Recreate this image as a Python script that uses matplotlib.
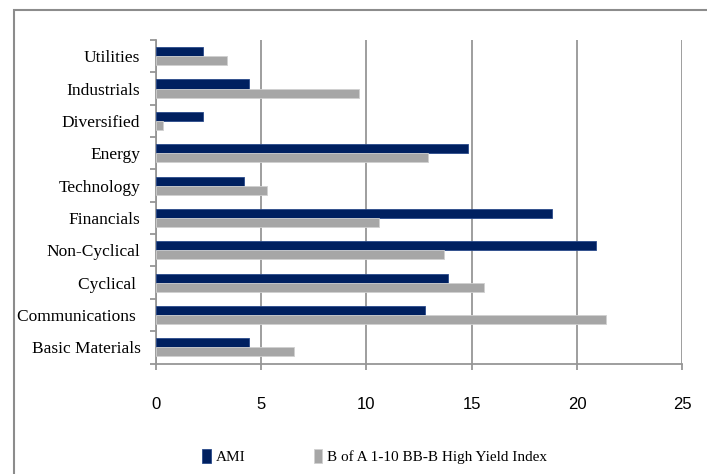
import matplotlib
import matplotlib.pyplot as plt
import numpy as np
from matplotlib.patches import Rectangle

matplotlib.use('Agg')

# sector weights, bottom to top
sectors = ['Basic Materials', 'Communications ', 'Cyclical ', 'Non-Cyclical', 'Financials',
           'Technology', 'Energy', 'Diversified', 'Industrials', 'Utilities']
ami = [4.45, 12.8, 13.85, 20.9, 18.8, 4.2, 14.8, 2.25, 4.45, 2.25]
bofa = [6.55, 21.35, 15.6, 13.7, 10.6, 5.3, 12.9, 0.33, 9.65, 3.4]
x_ticks = [0, 5, 10, 15, 20, 25]

navy = '#002060'
grey = '#a6a6a6'
line_grey = '#969696'

fig = plt.figure(figsize=(7.07, 4.74), dpi=100)
ax = fig.add_axes([0.2202, 0.2331, 0.7451, 0.6825])

y = np.arange(len(sectors))
h = 0.28
ax.barh(y + h / 2, ami, height=h, color=navy, edgecolor='#2a4a8a', linewidth=0.6,
        label='AMI', zorder=3)
ax.barh(y - h / 2, bofa, height=h, color=grey, edgecolor='#d0d0d0', linewidth=0.6,
        label='B of A 1-10 BB-B High Yield Index', zorder=3)

ax.set_xlim(0, 25)
ax.set_ylim(-0.5, len(sectors) - 0.5)
ax.set_xticks(x_ticks)
ax.set_xticklabels([str(t) for t in x_ticks], family='Liberation Sans', fontsize=12)
ax.grid(axis='x', color=line_grey, linewidth=1.3, zorder=0)

ax.set_yticks(y)
ax.set_yticklabels(sectors, family='Liberation Serif', fontsize=12.5)
ax.set_yticks(np.arange(-0.5, len(sectors)), minor=True)
ax.tick_params(axis='y', which='major', length=0, pad=11)
ax.tick_params(axis='y', which='minor', length=4, color=line_grey, width=1.3, direction='out')
ax.tick_params(axis='x', length=4, color=line_grey, width=1.3, pad=20)

for side in ['top', 'right']:
    ax.spines[side].set_visible(False)
for side in ['left', 'bottom']:
    ax.spines[side].set_color(line_grey)
    ax.spines[side].set_linewidth(1.3)

leg = fig.legend(loc='center', bbox_to_anchor=(0.53, 0.037), ncol=2, frameon=False,
                 prop={'family': 'Liberation Serif', 'size': 11},
                 handlelength=0.55, handleheight=1.0, handletextpad=0.3, columnspacing=4.5)

# outer chart border (clipped right and bottom)
fig.patches.append(Rectangle((14 / 707, -0.1), 1.2, 1.1 - 10 / 474, transform=fig.transFigure,
                             fill=False, edgecolor='#8c8c8c', linewidth=1.5))

plt.savefig('out.png', dpi=100)
plt.close()
